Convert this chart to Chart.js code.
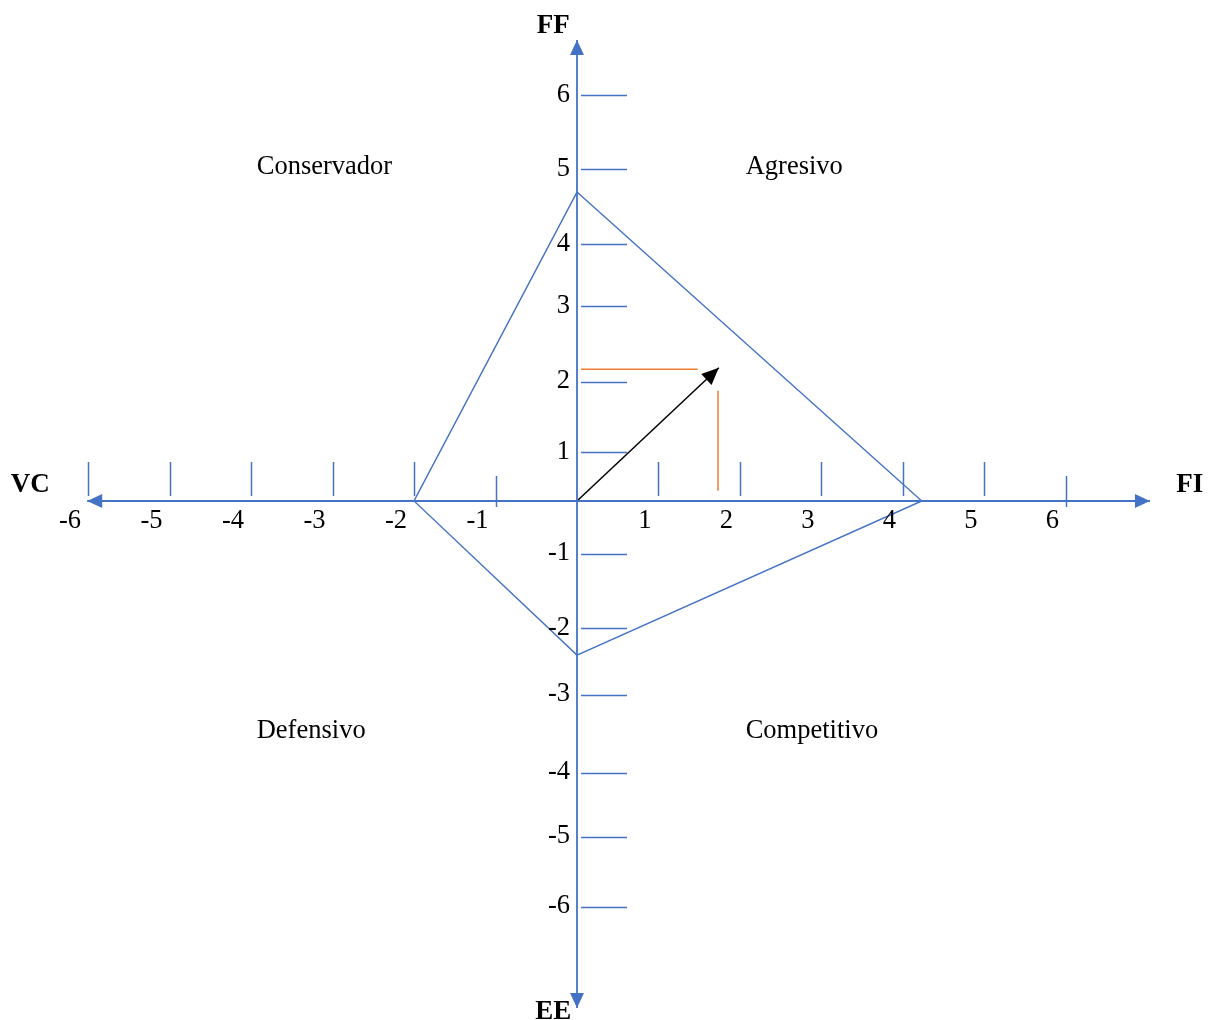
<!DOCTYPE html>
<html>
<head>
<meta charset="utf-8">
<script src="https://cdn.jsdelivr.net/npm/chart.js@4.4.1/dist/chart.umd.min.js"></script>
<style>
html, body { margin: 0; padding: 0; background: #fff; }
#wrap { position: relative; width: 1213px; height: 1020px; }
</style>
</head>
<body>
<div id="wrap"><canvas id="chart"></canvas></div>
<script>
// values (axis units)
var xTicks = [-6, -5, -4, -3, -2, -1, 1, 2, 3, 4, 5, 6];
var xCrossTicks = [-1, 6];
var yTicks = [6, 5, 4, 3, 2, 1, -1, -2, -3, -4, -5, -6];
var yTickAt = [6.0, 4.91, 3.80, 2.88, 1.76, 0.72, -0.78, -1.88, -2.87, -4.02, -4.97, -6.0];

var axisNames = ['FF', 'FI', 'EE', 'VC'];
var axisNameX = [-0.29, 7.52, -0.29, -6.71];
var axisNameY = [7.06, 0.27, -7.53, 0.28];

var quadrants = ['Conservador', 'Agresivo', 'Defensivo', 'Competitivo'];
var quadX = [-3.93, 2.07, -3.93, 2.07];
var quadY = [4.97, 4.97, -3.36, -3.36];

// polygon vertices: FF, FI, EE, VC
var polyX = [0, 4.23, 0, -2];
var polyY = [4.57, 0, -2.28, 0];

var result = [1.74, 1.97];
var guideH = [[0.05, 1.95], [1.48, 1.95]];
var guideV = [[1.73, 1.63], [1.73, 0.15]];

var xAxisEnds = [-6.01, 7.03];
var yAxisEnds = [6.82, -7.5];

var BLUE = '#4472C4';
var ORANGE = '#ED7D31';
var SERIF = '"Liberation Serif", "Times New Roman", serif';
var TEXT_DY = 2.5; // serif glyphs sit high on 'middle'

function pts(arr) {
    return arr.map(p => ({ x: p[0], y: p[1] }));
}

function lineSet(data, color, width) {
    return {
        data: data,
        showLine: true,
        borderColor: color,
        backgroundColor: color,
        borderWidth: width,
        pointRadius: 0,
        fill: false,
        tension: 0
    };
}

var polyData = [];
polyX.forEach((x, i) => {
    polyData.push({ x: x, y: polyY[i] });
});
polyData.push({ x: polyX[0], y: polyY[0] });

function arrowHead(ctx, x0, y0, x1, y1, len, half, color) {
    var a = Math.atan2(y1 - y0, x1 - x0);
    ctx.save();
    ctx.fillStyle = color;
    ctx.beginPath();
    ctx.moveTo(x1, y1);
    ctx.lineTo(x1 - len * Math.cos(a) + half * Math.sin(a), y1 - len * Math.sin(a) - half * Math.cos(a));
    ctx.lineTo(x1 - len * Math.cos(a) - half * Math.sin(a), y1 - len * Math.sin(a) + half * Math.cos(a));
    ctx.closePath();
    ctx.fill();
    ctx.restore();
}

// ticks, labels and arrow heads
var decor = {
    id: 'decor',
    afterDatasetsDraw(chart) {
        var ctx = chart.ctx;
        var sx = chart.scales.x, sy = chart.scales.y;
        var ox = sx.getPixelForValue(0), oy = sy.getPixelForValue(0);

        ctx.save();
        ctx.strokeStyle = BLUE;
        ctx.lineWidth = 1.5;

        // x ticks
        xTicks.forEach(v => {
            var px = Math.round(sx.getPixelForValue(v)) + 0.5;
            var cross = xCrossTicks.indexOf(v) >= 0;
            ctx.beginPath();
            ctx.moveTo(px, oy - (cross ? 25 : 39));
            ctx.lineTo(px, oy + (cross ? 6 : -5));
            ctx.stroke();
        });
        // y ticks
        yTickAt.forEach(v => {
            var py = Math.round(sy.getPixelForValue(v)) + 0.5;
            ctx.beginPath();
            ctx.moveTo(ox + 4, py);
            ctx.lineTo(ox + 50, py);
            ctx.stroke();
        });

        // tick labels
        ctx.fillStyle = '#000';
        ctx.font = '26.5px ' + SERIF;
        ctx.textAlign = 'right';
        ctx.textBaseline = 'middle';
        xTicks.forEach(v => {
            ctx.fillText(String(v), sx.getPixelForValue(v) - 7, oy + 18 + TEXT_DY);
        });
        yTicks.forEach((v, i) => {
            ctx.fillText(String(v), ox - 7, sy.getPixelForValue(yTickAt[i]) - 3 + TEXT_DY);
        });

        // quadrant names
        ctx.textAlign = 'left';
        quadrants.forEach((q, i) => {
            ctx.fillText(q, sx.getPixelForValue(quadX[i]), sy.getPixelForValue(quadY[i]) + TEXT_DY);
        });

        // axis names
        ctx.font = 'bold 27px ' + SERIF;
        ctx.textAlign = 'center';
        axisNames.forEach((n, i) => {
            ctx.fillText(n, sx.getPixelForValue(axisNameX[i]), sy.getPixelForValue(axisNameY[i]) + TEXT_DY);
        });
        ctx.restore();

        // arrow heads on axes
        var xl = sx.getPixelForValue(xAxisEnds[0]), xr = sx.getPixelForValue(xAxisEnds[1]);
        var yt = sy.getPixelForValue(yAxisEnds[0]), yb = sy.getPixelForValue(yAxisEnds[1]);
        arrowHead(ctx, ox, oy, xl, oy, 15, 7, BLUE);
        arrowHead(ctx, ox, oy, xr, oy, 15, 7, BLUE);
        arrowHead(ctx, ox, oy, ox, yt, 15, 7, BLUE);
        arrowHead(ctx, ox, oy, ox, yb, 15, 7, BLUE);

        // result vector head
        arrowHead(ctx, ox, oy, sx.getPixelForValue(result[0]), sy.getPixelForValue(result[1]), 17, 7.5, '#000');
    }
};

function rendererMain() {
    var data = {
        datasets: [
            lineSet([{ x: xAxisEnds[0], y: 0 }, { x: xAxisEnds[1], y: 0 }], BLUE, 1.8),
            lineSet([{ x: 0, y: yAxisEnds[0] }, { x: 0, y: yAxisEnds[1] }], BLUE, 1.8),
            lineSet(polyData, BLUE, 1.4),
            lineSet(pts(guideH), ORANGE, 1.5),
            lineSet(pts(guideV), ORANGE, 1.5),
            lineSet([{ x: 0, y: 0 }, { x: result[0], y: result[1] }], '#000', 1.5)
        ]
    };

    var config = {
        type: 'scatter',
        data,
        options: {
            responsive: true,
            maintainAspectRatio: false,
            animation: false,
            layout: { padding: 0 },
            scales: {
                x: { type: 'linear', min: -7.08, max: 7.804, display: false },
                y: { type: 'linear', min: -7.678, max: 7.411, display: false }
            },
            plugins: {
                legend: { display: false },
                tooltip: { enabled: false }
            }
        },
        plugins: [decor]
    };
    new Chart(document.getElementById('chart'), config);
}

rendererMain();
</script>
</body>
</html>
